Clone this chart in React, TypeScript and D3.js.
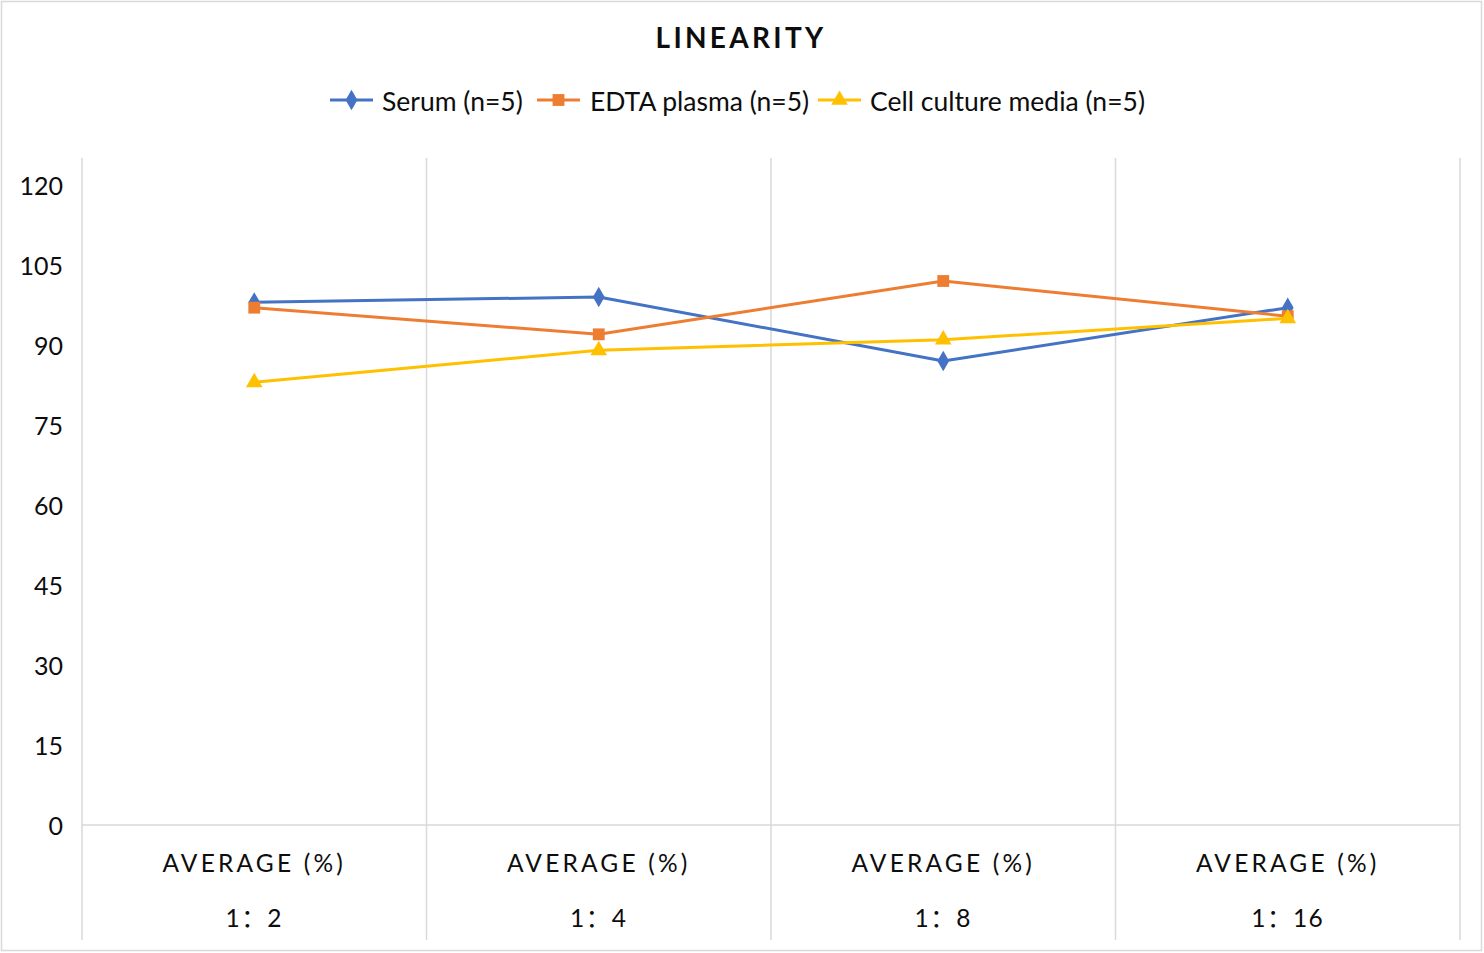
import React, { useEffect } from 'react';
import * as d3 from 'd3';

const categories = ['1：2', '1：4', '1：8', '1：16'];
const groupLabel = 'AVERAGE (%)';
const serum = [98, 99, 87, 97];
const edta = [97, 92, 102, 95.4];
const cellCulture = [83, 89, 91, 95];
const yTicks = [0, 15, 30, 45, 60, 75, 90, 105, 120];

const series = [
  { name: 'Serum (n=5)', values: serum, color: '#4472C4', marker: 'diamond' },
  { name: 'EDTA plasma (n=5)', values: edta, color: '#ED7D31', marker: 'square' },
  { name: 'Cell culture media (n=5)', values: cellCulture, color: '#FFC000', marker: 'triangle' },
];

const W = 1484;
const H = 953;
const plot = { left: 82, right: 1460, top: 185, bottom: 825 };
const font = 'Lato, "Noto Sans CJK SC", sans-serif';

const symbolFor = (m: string) =>
  m === 'diamond' ? d3.symbolDiamond : m === 'square' ? d3.symbolSquare : d3.symbolTriangle;

const symbolSize = (m: string) => (m === 'diamond' ? 120 : m === 'square' ? 140 : 120);

const App: React.FC = () => {
  useEffect(() => {
    document.body.style.margin = '0';
  }, []);

  const x = d3.scaleBand<string>().domain(categories).range([plot.left, plot.right]);
  const y = d3.scaleLinear().domain([0, 120]).range([plot.bottom, plot.top]);
  const cx = (c: string) => (x(c) ?? 0) + x.bandwidth() / 2;

  const line = d3
    .line<number>()
    .x((_, i) => cx(categories[i]))
    .y((d) => y(d));

  const gridX = [...categories.map((c) => x(c) ?? 0), plot.right];

  const legendItems = [
    { x: 330, textX: 382 },
    { x: 537, textX: 590 },
    { x: 818, textX: 870 },
  ];

  return (
    <svg width={W} height={H} style={{ display: 'block', background: '#fff' }}>
      <rect x={1.5} y={1.5} width={W - 4} height={H - 4} fill="#fff" stroke="#d9d9d9" strokeWidth={1.5} />

      <text x={741} y={37} textAnchor="middle" dominantBaseline="central" fontFamily={font} fontWeight={700} fontSize={28} letterSpacing={3.3} fill="#0d0d0d">
        LINEARITY
      </text>

      {series.map((s, i) => {
        const lx = legendItems[i].x;
        return (
          <g key={s.name}>
            <line x1={lx} x2={lx + 43} y1={100} y2={100} stroke={s.color} strokeWidth={3} />
            <path d={d3.symbol().type(symbolFor(s.marker)).size(symbolSize(s.marker))() ?? ''} transform={`translate(${lx + 21.5},100)`} fill={s.color} />
            <text x={legendItems[i].textX} y={101} dominantBaseline="central" fontFamily={font} fontSize={26.5} fill="#0d0d0d">
              {s.name}
            </text>
          </g>
        );
      })}

      {gridX.map((gx, i) => (
        <line key={i} x1={gx} x2={gx} y1={158} y2={940} stroke="#d9d9d9" strokeWidth={1.5} />
      ))}
      <line x1={plot.left} x2={plot.right} y1={y(0)} y2={y(0)} stroke="#d9d9d9" strokeWidth={1.5} />

      {yTicks.map((t) => (
        <text key={t} x={63} y={y(t)} textAnchor="end" dominantBaseline="central" fontFamily={font} fontSize={25} fill="#0d0d0d">
          {t}
        </text>
      ))}

      {categories.map((c) => (
        <g key={c}>
          <text x={cx(c)} y={862} textAnchor="middle" dominantBaseline="central" fontFamily={font} fontSize={24.5} letterSpacing={3.2} fill="#0d0d0d">
            {groupLabel}
          </text>
          <text x={cx(c)} y={917} textAnchor="middle" dominantBaseline="central" fontFamily={font} fontSize={24.5} letterSpacing={1.5} fill="#0d0d0d">
            {c}
          </text>
        </g>
      ))}

      {series.map((s) => (
        <g key={s.name}>
          <path d={line(s.values) ?? ''} fill="none" stroke={s.color} strokeWidth={3} strokeLinejoin="round" />
          {s.values.map((v, i) => (
            <path
              key={i}
              d={d3.symbol().type(symbolFor(s.marker)).size(symbolSize(s.marker))() ?? ''}
              transform={`translate(${cx(categories[i])},${y(v)})`}
              fill={s.color}
            />
          ))}
        </g>
      ))}
    </svg>
  );
};

export default App;
